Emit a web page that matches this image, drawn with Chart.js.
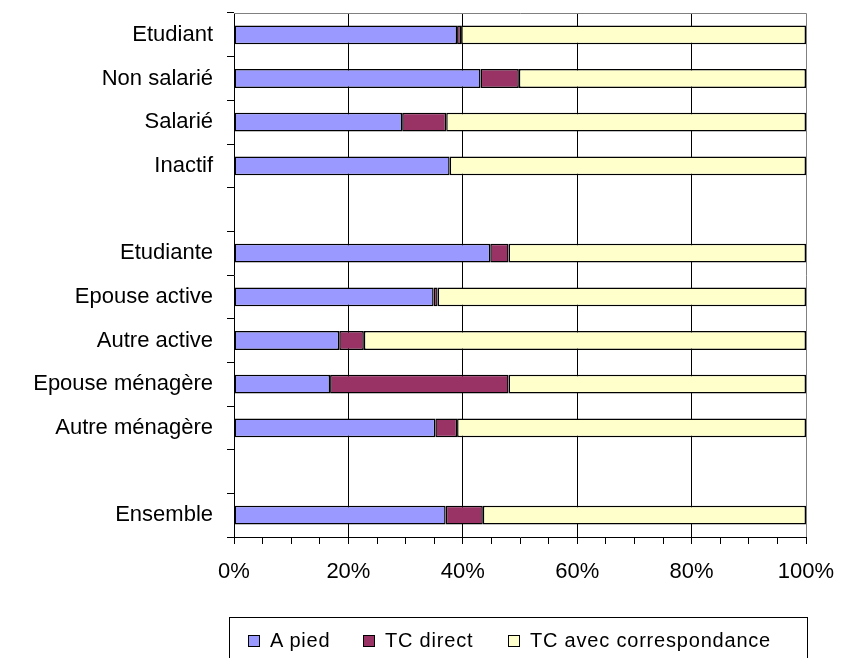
<!DOCTYPE html>
<html>
<head>
<meta charset="utf-8">
<script src="https://cdn.jsdelivr.net/npm/chart.js@4/dist/chart.umd.min.js"></script>
<style>
  html, body { margin: 0; padding: 0; background: #fff; overflow: hidden; }
  #wrap { position: relative; width: 841px; height: 658px; }
  #legend {
    position: absolute; left: 229px; top: 617px; width: 579px; height: 50px;
    border: 1px solid #000; box-sizing: border-box;
    font-family: 'Liberation Sans', Arial, sans-serif; font-size: 20px; color: #000;
  }
  #legend .item { position: absolute; top: 11px; display: flex; align-items: center; letter-spacing: 0.8px; white-space: nowrap; }
  #legend .sw { width: 10px; height: 10px; border: 1px solid #000; margin-right: 10px; }
</style>
</head>
<body>
<div id="wrap">
  <canvas id="chart" width="841" height="658"></canvas>
  <div id="legend"></div>
</div>
<script>
const categories = ['Etudiant', 'Non salarié', 'Salarié', 'Inactif', '',
  'Etudiante', 'Epouse active', 'Autre active', 'Epouse ménagère', 'Autre ménagère', '',
  'Ensemble'];
const aPied = [39.0, 43.1, 29.4, 37.7, null, 44.8, 34.9, 18.4, 16.8, 35.2, null, 37.0];
const tcDirect = [0.7, 6.7, 7.7, 0, null, 3.2, 0.7, 4.3, 31.2, 3.8, null, 6.5];
const tcCorresp = [60.3, 50.2, 62.9, 62.3, null, 52.0, 64.4, 77.3, 52.0, 61.0, null, 56.5];
const seriesNames = ['A pied', 'TC direct', 'TC avec correspondance'];
const seriesColors = ['#9999FF', '#993366', '#FFFFCC'];

const font = { family: "'Liberation Sans', Arial, sans-serif", size: 22 };

// gray frame on top and right of the plot area
const frame = {
  id: 'frame',
  beforeDatasetsDraw(chart) {
    const { ctx, chartArea: a } = chart;
    ctx.save();
    ctx.strokeStyle = '#808080';
    ctx.lineWidth = 1;
    ctx.beginPath();
    ctx.moveTo(a.left, a.top + 0.5);
    ctx.lineTo(a.right + 0.5, a.top + 0.5);
    ctx.lineTo(a.right + 0.5, a.bottom);
    ctx.stroke();
    ctx.restore();
  }
};

const ds = (i, data) => ({
  label: seriesNames[i],
  data: data,
  backgroundColor: seriesColors[i],
  borderColor: '#000',
  borderWidth: 1.5,
  borderSkipped: false,
  barPercentage: 0.43,
  categoryPercentage: 1
});

new Chart(document.getElementById('chart'), {
  type: 'bar',
  data: {
    labels: categories,
    datasets: [ds(0, aPied), ds(1, tcDirect), ds(2, tcCorresp)]
  },
  plugins: [frame],
  options: {
    responsive: false,
    animation: false,
    indexAxis: 'y',
    layout: { padding: { top: 13, right: 35, left: 0, bottom: 61 } },
    plugins: { legend: { display: false }, tooltip: { enabled: false } },
    scales: {
      x: {
        stacked: true,
        min: 0,
        max: 100,
        afterFit: s => { s.height = 60; s.paddingLeft = 0; s.paddingRight = 0; },
        ticks: {
          stepSize: 5,
          autoSkip: false,
          maxRotation: 0,
          padding: 15,
          color: '#000',
          font: font,
          callback: v => v % 20 === 0 ? v + '%' : ''
        },
        grid: {
          color: c => c.tick && c.tick.value % 20 === 0 && c.tick.value > 0 && c.tick.value < 100 ? '#000' : 'transparent',
          tickColor: '#000',
          tickLength: 7
        },
        border: { color: '#000', width: 1 }
      },
      y: {
        stacked: true,
        afterFit: s => { s.width = 234; s.paddingTop = 0; s.paddingBottom = 0; },
        ticks: { color: '#000', font: font, padding: 14 },
        grid: { offset: true, drawOnChartArea: false, tickColor: '#000', tickLength: 7 },
        border: { color: '#000', width: 1 }
      }
    }
  }
});

// legend items, left positions
const legendX = [18, 133, 278];
const legend = document.getElementById('legend');
seriesNames.forEach((name, i) => {
  const item = document.createElement('div');
  item.className = 'item';
  item.style.left = legendX[i] + 'px';
  item.innerHTML = '<span class="sw" style="background:' + seriesColors[i] + '"></span>' + name;
  legend.appendChild(item);
});
</script>
</body>
</html>
